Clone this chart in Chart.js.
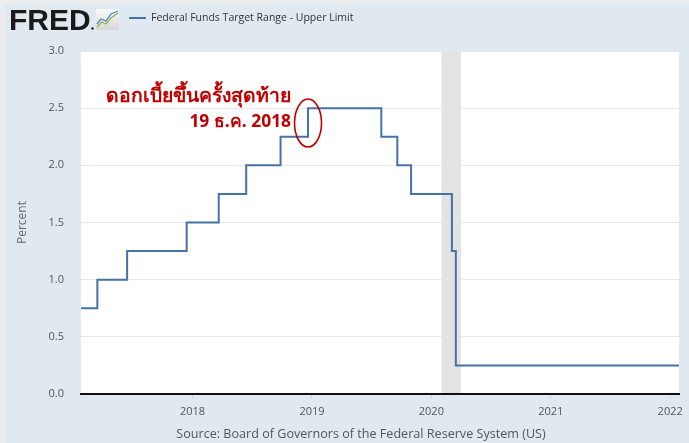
<!DOCTYPE html>
<html lang="th">
<head>
<meta charset="UTF-8">
<title>Federal Funds Target Range - Upper Limit</title>
<script src="https://cdn.jsdelivr.net/npm/chart.js"></script>
<style>
  body { margin: 0; background: #ececec; }
  #wrap { width: 689px; height: 443px; }
</style>
</head>
<body>
<div id="wrap"><canvas id="fred" width="689" height="443"></canvas></div>
<script>
// step dates (day the new upper limit took effect) and the upper limit value
const changeDates = ['2017-01-25', '2017-03-16', '2017-06-15', '2017-12-14', '2018-03-22', '2018-06-14',
                     '2018-09-27', '2018-12-20', '2019-08-01', '2019-09-19', '2019-10-31', '2020-03-04',
                     '2020-03-16', '2022-01-28'];
const upperLimit = [0.75, 1.00, 1.25, 1.50, 1.75, 2.00, 2.25, 2.50, 2.25, 2.00, 1.75, 1.25, 0.25, 0.25];
const yearTicks = [2018, 2019, 2020, 2021, 2022];
const percentTicks = [0, 0.5, 1.0, 1.5, 2.0, 2.5, 3.0];
const recession = ['2020-02-01', '2020-04-01'];
const lastHike = '2018-12-20';

function yearFrac(s) {
    const d = Date.parse(s + 'T00:00:00Z');
    const y = new Date(d).getUTCFullYear();
    const a = Date.UTC(y, 0, 1), b = Date.UTC(y + 1, 0, 1);
    return y + (d - a) / (b - a);
}

const points = changeDates.map((d, i) => ({ x: yearFrac(d), y: upperLimit[i] }));
const FONT = "'Open Sans', 'Noto Sans', sans-serif";

const fredDecor = {
    id: 'fredDecor',
    beforeDraw(chart) {
        const c = chart.ctx, a = chart.chartArea;
        c.save();
        c.fillStyle = '#ececec';
        c.fillRect(0, 0, chart.width, chart.height);
        c.fillStyle = '#e1e9f0';
        c.fillRect(5, 3, chart.width - 5, chart.height - 3);
        c.fillStyle = '#ffffff';
        c.fillRect(a.left, a.top, a.right - a.left, a.bottom - a.top);
        c.restore();
    },
    beforeDatasetsDraw(chart) {
        const c = chart.ctx, a = chart.chartArea, xs = chart.scales.x;
        const x0 = xs.getPixelForValue(yearFrac(recession[0]));
        const x1 = xs.getPixelForValue(yearFrac(recession[1]));
        c.save();
        c.fillStyle = '#e3e3e3';
        c.fillRect(x0, a.top, x1 - x0, a.bottom - a.top - 1);
        c.restore();
    },
    afterDraw(chart) {
        const c = chart.ctx, a = chart.chartArea;
        const xs = chart.scales.x, ys = chart.scales.y;
        c.save();

        // FRED logo
        c.fillStyle = '#1a1a1a';
        c.font = "bold 30px 'Liberation Sans', Arial, sans-serif";
        c.textBaseline = 'alphabetic';
        c.textAlign = 'left';
        c.fillText('FRED', 9, 30);
        c.beginPath();
        c.arc(92.5, 28.5, 1.2, 0, Math.PI * 2);
        c.fill();
        // little chart icon
        const g = c.createLinearGradient(0, 9, 0, 30);
        g.addColorStop(0, '#fafafa');
        g.addColorStop(1, '#d6d6d6');
        c.fillStyle = g;
        c.fillRect(96, 9, 23, 21);
        c.lineWidth = 1.3;
        c.strokeStyle = '#8dbb4a';
        c.beginPath();
        c.moveTo(97, 27); c.lineTo(102, 22); c.lineTo(106, 24); c.lineTo(111, 18); c.lineTo(118, 13);
        c.stroke();
        c.strokeStyle = '#5b86c5';
        c.beginPath();
        c.moveTo(97, 24); c.lineTo(101, 19); c.lineTo(106, 21); c.lineTo(111, 14); c.lineTo(118, 11);
        c.stroke();

        // legend
        c.strokeStyle = '#4572a7';
        c.lineWidth = 2;
        c.beginPath();
        c.moveTo(129, 18); c.lineTo(146, 18);
        c.stroke();
        c.fillStyle = '#333333';
        c.font = '10.5px ' + FONT;
        c.textBaseline = 'middle';
        c.fillText('Federal Funds Target Range - Upper Limit', 151, 18);

        // y title
        c.fillStyle = '#666666';
        c.font = '12px ' + FONT;
        c.translate(23, (a.top + a.bottom) / 2);
        c.rotate(-Math.PI / 2);
        c.textAlign = 'center';
        c.fillText('Percent', 0, 0);
        c.setTransform(1, 0, 0, 1, 0, 0);

        // source
        c.fillStyle = '#555555';
        c.font = '12.6px ' + FONT;
        c.textAlign = 'center';
        c.fillText('Source: Board of Governors of the Federal Reserve System (US)', 361, 434);

        // annotation of the last hike
        const cx = xs.getPixelForValue(yearFrac(lastHike));
        const cy = ys.getPixelForValue(2.37);
        c.strokeStyle = '#c00000';
        c.lineWidth = 1.6;
        c.beginPath();
        c.ellipse(cx, cy, 13.5, 24, 0, 0, Math.PI * 2);
        c.stroke();

        c.fillStyle = '#c00000';
        c.textAlign = 'right';
        c.textBaseline = 'alphabetic';
        const fit = (txt, target, base) => {
            c.font = 'bold ' + base + 'px ' + FONT;
            const w = c.measureText(txt).width;
            return base * target / w;
        };
        const t1 = 'ดอกเบี้ยขึ้นครั้งสุดท้าย';
        const t2 = '19 ธ.ค. 2018';
        c.font = 'bold ' + fit(t1, 186, 20).toFixed(1) + 'px ' + FONT;
        c.fillText(t1, cx - 17, 102);
        c.font = 'bold ' + fit(t2, 101, 18).toFixed(1) + 'px ' + FONT;
        c.fillText(t2, cx - 17, 127);
        c.restore();
    }
};

new Chart(document.getElementById('fred'), {
    type: 'line',
    data: {
        datasets: [{
            label: 'Federal Funds Target Range - Upper Limit',
            data: points,
            stepped: true,
            borderColor: '#4572a7',
            borderWidth: 2,
            pointRadius: 0,
            fill: false
        }]
    },
    options: {
        responsive: false,
        animation: false,
        layout: { padding: { top: 51, right: 10, bottom: 0, left: 0 } },
        plugins: { legend: { display: false }, tooltip: { enabled: false } },
        scales: {
            x: {
                type: 'linear',
                min: yearFrac('2017-01-25'),
                max: yearFrac('2022-01-28'),
                afterFit(s) { s.height = 49; },
                afterBuildTicks(s) { s.ticks = yearTicks.map(v => ({ value: v })); },
                grid: { drawOnChartArea: false, drawTicks: true, tickLength: 5, color: '#d0d0d0' },
                border: { display: true, color: '#111111', width: 2 },
                ticks: { color: '#555555', padding: 6, font: { size: 11, family: FONT }, maxRotation: 0,
                         callback: v => String(v) }
            },
            y: {
                min: 0,
                max: 3,
                afterFit(s) { s.width = 81; },
                afterBuildTicks(s) { s.ticks = percentTicks.map(v => ({ value: v })); },
                grid: { color: '#e8e8e8', drawTicks: false },
                border: { display: false },
                ticks: { color: '#555555', padding: 17, font: { size: 11, family: FONT },
                         callback: v => v.toFixed(1) }
            }
        }
    },
    plugins: [fredDecor]
});
</script>
</body>
</html>
